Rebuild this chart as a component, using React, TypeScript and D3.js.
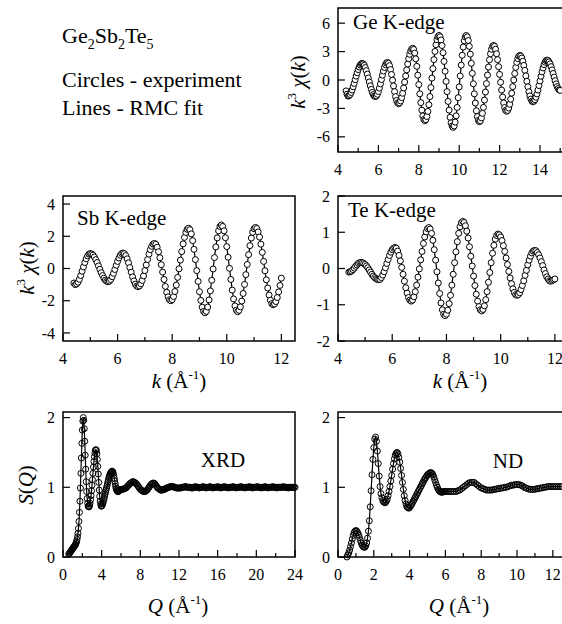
import React from 'react';
import * as d3 from 'd3';

const FONT = "'Liberation Serif', 'Times New Roman', serif";
const W = 562;
const H = 624;

// EXAFS data, k grid starts at 4.40 with a step of 0.05 (A^-1)
const K_STEP = 0.05;
const geStart = 4.4;
const geChi = [
  -1.15, -1.5, -1.7,
  -1.66, -1.53, -1.32, -1.05, -0.72, -0.36, 0.03, 0.41, 0.77, 1.1, 1.37, 1.58, 1.71, 1.75,
  1.7, 1.55, 1.31, 0.99, 0.62, 0.21, -0.21, -0.62, -0.99, -1.31, -1.55, -1.7, -1.75,
  -1.69, -1.51, -1.22, -0.85, -0.41, 0.05, 0.51, 0.95, 1.32, 1.61, 1.79, 1.85,
  1.76, 1.51, 1.1, 0.58, -0.02, -0.63, -1.23, -1.75, -2.16, -2.41, -2.5,
  -2.42, -2.21, -1.86, -1.4, -0.84, -0.22, 0.43, 1.07, 1.69, 2.25, 2.71, 3.06, 3.27, 3.35,
  3.22, 2.84, 2.23, 1.44, 0.51, -0.48, -1.46, -2.39, -3.18, -3.79, -4.17, -4.3,
  -4.18, -3.85, -3.32, -2.61, -1.75, -0.8, 0.2, 1.2, 2.15, 3.01, 3.72, 4.25, 4.58, 4.7,
  4.57, 4.22, 3.64, 2.88, 1.96, 0.93, -0.15, -1.23, -2.26, -3.18, -3.94, -4.52, -4.87, -5.0,
  -4.85, -4.44, -3.78, -2.9, -1.87, -0.73, 0.43, 1.57, 2.61, 3.48, 4.14, 4.55, 4.7,
  4.56, 4.17, 3.55, 2.73, 1.76, 0.7, -0.4, -1.46, -2.43, -3.25, -3.87, -4.26, -4.4,
  -4.3, -4.0, -3.52, -2.89, -2.12, -1.27, -0.38, 0.52, 1.37, 2.14, 2.77, 3.25, 3.55, 3.65,
  3.55, 3.25, 2.77, 2.15, 1.41, 0.59, -0.24, -1.06, -1.8, -2.42, -2.9, -3.2, -3.3,
  -3.21, -2.96, -2.56, -2.03, -1.39, -0.7, 0.0, 0.69, 1.33, 1.86, 2.26, 2.51, 2.6,
  2.53, 2.32, 1.98, 1.54, 1.02, 0.44, -0.14, -0.72, -1.24, -1.68, -2.02, -2.23, -2.3,
  -2.24, -2.08, -1.82, -1.47, -1.06, -0.59, -0.1, 0.39, 0.86, 1.27, 1.62, 1.88, 2.04, 2.1,
  2.05, 1.91, 1.7, 1.41, 1.07, 0.69, 0.31, -0.07, -0.41, -0.7, -0.91, -1.05, -1.1,
];

const sbStart = 4.4;
const sbChi = [
  -0.9, -1.0,
  -0.96, -0.85, -0.67, -0.44, -0.17, 0.1, 0.37, 0.6, 0.78, 0.89, 0.93,
  0.9, 0.83, 0.71, 0.55, 0.37, 0.16, -0.05, -0.26, -0.44, -0.6, -0.72, -0.79, -0.82,
  -0.78, -0.68, -0.51, -0.3, -0.06, 0.2, 0.44, 0.65, 0.82, 0.92, 0.96,
  0.92, 0.8, 0.6, 0.35, 0.06, -0.23, -0.52, -0.77, -0.97, -1.09, -1.13,
  -1.08, -0.95, -0.74, -0.46, -0.13, 0.22, 0.56, 0.89, 1.17, 1.38, 1.51, 1.56,
  1.5, 1.32, 1.04, 0.67, 0.24, -0.22, -0.68, -1.11, -1.48, -1.76, -1.94, -2.0,
  -1.93, -1.74, -1.43, -1.03, -0.55, -0.02, 0.52, 1.05, 1.53, 1.93, 2.24, 2.43, 2.5,
  2.41, 2.15, 1.73, 1.19, 0.55, -0.13, -0.8, -1.44, -1.98, -2.4, -2.66, -2.75,
  -2.66, -2.39, -1.95, -1.39, -0.73, -0.03, 0.68, 1.34, 1.9, 2.34, 2.61, 2.7,
  2.61, 2.34, 1.91, 1.36, 0.7, 0.01, -0.68, -1.34, -1.89, -2.32, -2.59, -2.68,
  -2.6, -2.38, -2.02, -1.55, -0.99, -0.38, 0.25, 0.86, 1.42, 1.89, 2.25, 2.47, 2.55,
  2.48, 2.27, 1.95, 1.51, 1.0, 0.44, -0.14, -0.7, -1.21, -1.65, -1.97, -2.18, -2.25,
  -2.2, -2.05, -1.8, -1.45, -1.05, -0.6,
];

const teStart = 4.4;
const teChi = [
  -0.1,
  -0.09, -0.07, -0.03, 0.01, 0.06, 0.1, 0.14, 0.16, 0.17,
  0.16, 0.14, 0.11, 0.07, 0.02, -0.04, -0.1, -0.16, -0.21, -0.25, -0.28, -0.3, -0.31,
  -0.3, -0.25, -0.18, -0.09, 0.02, 0.14, 0.25, 0.36, 0.45, 0.52, 0.56, 0.58,
  0.56, 0.48, 0.36, 0.21, 0.03, -0.16, -0.35, -0.53, -0.68, -0.8, -0.87, -0.9,
  -0.87, -0.78, -0.64, -0.46, -0.24, -0.01, 0.24, 0.47, 0.69, 0.87, 1.01, 1.1, 1.13,
  1.09, 0.97, 0.78, 0.52, 0.23, -0.09, -0.4, -0.69, -0.95, -1.14, -1.26, -1.3,
  -1.26, -1.15, -0.97, -0.74, -0.46, -0.16, 0.16, 0.46, 0.74, 0.97, 1.15, 1.26, 1.3,
  1.27, 1.18, 1.03, 0.84, 0.6, 0.34, 0.07, -0.21, -0.47, -0.71, -0.9, -1.05, -1.14, -1.17,
  -1.13, -1.03, -0.86, -0.64, -0.38, -0.11, 0.16, 0.42, 0.64, 0.81, 0.91, 0.95,
  0.93, 0.87, 0.77, 0.63, 0.47, 0.29, 0.11, -0.08, -0.26, -0.42, -0.56, -0.66, -0.72, -0.74,
  -0.72, -0.67, -0.58, -0.47, -0.34, -0.19, -0.05, 0.1, 0.23, 0.34, 0.43, 0.48, 0.5,
  0.49, 0.44, 0.38, 0.29, 0.19, 0.08, -0.04, -0.14, -0.23, -0.29, -0.34, -0.35,
  -0.33, -0.31, -0.29,
];

// S(Q): fine grid (0.05) at low Q, 0.1 above 6
const xrdLowStart = 0.6;
const xrdLow = [
  0.04, 0.05, 0.06, 0.07, 0.08, 0.09, 0.1, 0.11, 0.12,
  0.13, 0.14, 0.15, 0.16, 0.17, 0.18, 0.2, 0.22, 0.25, 0.29,
  0.34, 0.41, 0.51, 0.64, 0.8, 0.99, 1.2, 1.42, 1.63, 1.82,
  1.95, 2.0, 1.96, 1.84, 1.66, 1.46, 1.26, 1.08, 0.94, 0.84,
  0.77, 0.73, 0.72, 0.72, 0.74, 0.77, 0.82, 0.88, 0.95, 1.03,
  1.11, 1.2, 1.29, 1.37, 1.44, 1.49, 1.53, 1.54, 1.53, 1.48,
  1.4, 1.3, 1.19, 1.07, 0.96, 0.87, 0.8, 0.76, 0.73, 0.73,
  0.74, 0.76, 0.78, 0.81, 0.84, 0.87, 0.9, 0.93, 0.96, 0.99,
  1.02, 1.05, 1.08, 1.11, 1.14, 1.16, 1.18, 1.2, 1.21, 1.22,
  1.23, 1.23, 1.22, 1.2, 1.17, 1.13, 1.09, 1.05, 1.01, 0.98,
  0.96, 0.95, 0.94, 0.94, 0.94, 0.95, 0.96, 0.96, 0.97, 0.97,
];
const xrdHighStart = 6.1;
const xrdHigh = [
  0.97, 0.97, 0.98, 0.98, 0.99, 1.0, 1.02, 1.03, 1.05, 1.06,
  1.07, 1.08, 1.08, 1.07, 1.06, 1.05, 1.03, 1.01, 0.99, 0.97,
  0.96, 0.95, 0.94, 0.94, 0.94, 0.95, 0.96, 0.98, 1.0, 1.02,
  1.04, 1.05, 1.06, 1.06, 1.05, 1.03, 1.01, 0.99, 0.98, 0.97,
  0.96, 0.96, 0.96, 0.97, 0.97, 0.98, 0.99, 0.99, 1.0, 1.0,
  1.01, 1.01, 1.01, 1.01, 1.0, 1.0, 0.99, 0.99, 0.99, 0.99,
  0.99, 0.99, 1.0, 1.0, 1.0, 1.01, 1.01, 1.0, 1.0, 1.0,
  1.0, 1.0, 0.99, 0.99, 1.0, 1.0, 1.01, 1.0, 1.0, 1.0,
  0.99, 1.0, 1.0, 1.0, 1.01, 1.0, 1.0, 0.99, 1.0, 1.0,
  1.0, 1.01, 1.0, 1.0, 0.99, 1.0, 1.0, 1.0, 1.0, 1.01,
  1.0, 1.0, 0.99, 1.0, 1.0, 1.0, 1.01, 1.0, 1.0, 1.0,
  0.99, 1.0, 1.0, 1.0, 1.0, 1.01, 1.0, 1.0, 0.99, 1.0,
  1.0, 1.0, 1.0, 1.01, 1.0, 1.0, 1.0, 0.99, 1.0, 1.0,
  1.0, 1.0, 1.01, 1.0, 1.0, 0.99, 1.0, 1.0, 1.0, 1.0,
  1.01, 1.0, 1.0, 1.0, 0.99, 1.0, 1.0, 1.0, 1.01, 1.0,
  1.0, 0.99, 1.0, 1.0, 1.0, 1.0, 1.01, 1.0, 1.0, 1.0,
  0.99, 1.0, 1.0, 1.0, 1.0, 1.0, 1.0, 1.01, 1.0, 1.0,
  1.0, 1.0, 0.99, 1.0, 1.0, 1.0, 1.0, 1.0, 1.0, 1.0,
];

const ndLowStart = 0.5;
const ndLow = [
  0.0, 0.03, 0.06, 0.1, 0.15, 0.2, 0.26, 0.31, 0.35, 0.37, 0.38,
  0.37, 0.35, 0.32, 0.28, 0.24, 0.2, 0.17, 0.15, 0.14, 0.14,
  0.16, 0.2, 0.27, 0.37, 0.52, 0.72, 0.95, 1.18, 1.4, 1.57,
  1.69, 1.72, 1.66, 1.52, 1.34, 1.16, 1.01, 0.91, 0.85, 0.81,
  0.79, 0.78, 0.78, 0.8, 0.83, 0.88, 0.94, 1.01, 1.09, 1.17,
  1.26, 1.34, 1.41, 1.46, 1.49, 1.5, 1.48, 1.43, 1.36, 1.27,
  1.17, 1.07, 0.97, 0.88, 0.81, 0.76, 0.72, 0.71, 0.7, 0.71,
  0.73, 0.75, 0.77, 0.8, 0.82, 0.85, 0.87, 0.9, 0.92, 0.95,
  0.97, 1.0, 1.02, 1.05, 1.07, 1.1, 1.12, 1.14, 1.16, 1.18,
  1.19, 1.2, 1.21, 1.21, 1.2, 1.18, 1.15, 1.11, 1.07, 1.03,
  1.0, 0.97, 0.95, 0.94, 0.93, 0.93, 0.93, 0.94, 0.94, 0.94,
];
const ndHighStart = 6.1;
const ndHigh = [
  0.94, 0.94, 0.94, 0.94, 0.94, 0.94, 0.95, 0.96, 0.98, 1.0,
  1.02, 1.04, 1.06, 1.07, 1.07, 1.07, 1.05, 1.03, 1.01, 0.99,
  0.98, 0.97, 0.96, 0.96, 0.96, 0.96, 0.97, 0.97, 0.98, 0.98,
  0.99, 0.99, 1.0, 1.0, 1.01, 1.02, 1.03, 1.03, 1.04, 1.04,
  1.04, 1.03, 1.02, 1.0, 0.99, 0.98, 0.97, 0.97, 0.97, 0.97,
  0.98, 0.98, 0.99, 0.99, 1.0, 1.0, 1.01, 1.01, 1.01, 1.01,
  1.01, 1.01, 1.01, 1.01, 1.01,
];

// ticks
const kMajor = [4, 6, 8, 10, 12, 14, 16];
const kMinor = [5, 7, 9, 11, 13, 15];
const geYTicks = [-6, -3, 0, 3, 6];
const sbYTicks = [-4, -2, 0, 2, 4];
const teYTicks = [-2, -1, 0, 1, 2];
const xrdMajor = [0, 4, 8, 12, 16, 20, 24];
const xrdMinor = [2, 6, 10, 14, 18, 22];
const ndMajor = [0, 2, 4, 6, 8, 10, 12];
const ndMinor = [1, 3, 5, 7, 9, 11, 13];
const sYTicks = [0, 1, 2];

type Pt = [number, number];

const series = (start: number, step: number, values: number[]): Pt[] =>
  values.map((v, i) => [+(start + i * step).toFixed(2), v] as Pt);

interface PanelProps {
  left: number;
  top: number;
  width: number;
  height: number;
  xDomain: [number, number];
  yDomain: [number, number];
  xMajor: number[];
  xMinor: number[];
  yTicks: number[];
  points: Pt[];
  hollow?: boolean;
}

const Panel = ({ left, top, width, height, xDomain, yDomain, xMajor, xMinor, yTicks, points, hollow }: PanelProps) => {
  const x = d3.scaleLinear().domain(xDomain).range([left, left + width]);
  const y = d3.scaleLinear().domain(yDomain).range([top + height, top]);
  const line = d3.line<Pt>().x((d) => x(d[0])).y((d) => y(d[1]));
  const bottom = top + height;
  // only ticks that land on the page
  const onPage = (t: number) => x(t) <= W - 1;

  return (
    <g>
      <path d={line(points) || ''} fill="none" stroke="#000" strokeWidth={1.2} />
      {points.map((d, i) => (
        <circle key={i} cx={x(d[0])} cy={y(d[1])} r={3} fill={hollow ? 'none' : '#fff'} stroke="#000" strokeWidth={1} />
      ))}
      <rect x={left} y={top} width={width} height={height} fill="none" stroke="#000" strokeWidth={1.5} />
      {/* x ticks point inward */}
      {xMajor.filter(onPage).map((t) => (
        <g key={'M' + t}>
          <line x1={x(t)} x2={x(t)} y1={bottom} y2={bottom - 7} stroke="#000" strokeWidth={1.2} />
          <text x={x(t)} y={bottom + 23} textAnchor="middle" fontSize={16}>{t}</text>
        </g>
      ))}
      {xMinor.filter(onPage).map((t) => (
        <line key={'m' + t} x1={x(t)} x2={x(t)} y1={bottom} y2={bottom - 4} stroke="#000" strokeWidth={1.2} />
      ))}
      {yTicks.map((t) => (
        <g key={'y' + t}>
          <line x1={left} x2={left + 7} y1={y(t)} y2={y(t)} stroke="#000" strokeWidth={1.2} />
          <text x={left - 8} y={y(t)} dy="0.35em" textAnchor="end" fontSize={16}>{t}</text>
        </g>
      ))}
    </g>
  );
};

const KTitle = ({ x, y }: { x: number; y: number }) => (
  <text x={x} y={y} textAnchor="middle" fontSize={21}>
    <tspan fontStyle="italic">k</tspan>
    <tspan> (Å</tspan>
    <tspan fontSize={13} dy={-9}>-1</tspan>
    <tspan dy={9}>)</tspan>
  </text>
);

const QTitle = ({ x, y }: { x: number; y: number }) => (
  <text x={x} y={y} textAnchor="middle" fontSize={21}>
    <tspan fontStyle="italic">Q</tspan>
    <tspan> (Å</tspan>
    <tspan fontSize={13} dy={-9}>-1</tspan>
    <tspan dy={9}>)</tspan>
  </text>
);

const ChiTitle = ({ x, y }: { x: number; y: number }) => (
  <text transform={`translate(${x},${y}) rotate(-90)`} textAnchor="middle" fontSize={21}>
    <tspan fontStyle="italic">k</tspan>
    <tspan fontSize={13} dy={-9}>3</tspan>
    <tspan dy={9} fontStyle="italic"> χ</tspan>
    <tspan>(</tspan>
    <tspan fontStyle="italic">k</tspan>
    <tspan>)</tspan>
  </text>
);

const App = () => {
  const colW = 232;
  const rightW = 244;
  const panelH = 145;

  return (
    <svg width={W} height={H} style={{ position: 'absolute', left: 0, top: 0, background: '#fff' }} fontFamily={FONT}>
      <rect width={W} height={H} fill="#fff" />

      {/* caption */}
      <text x={62} y={43} fontSize={22}>
        Ge<tspan fontSize={14} dy={6}>2</tspan>
        <tspan dy={-6}>Sb</tspan>
        <tspan fontSize={14} dy={6}>2</tspan>
        <tspan dy={-6}>Te</tspan>
        <tspan fontSize={14} dy={6}>5</tspan>
      </text>
      <text x={62} y={87} fontSize={22}>Circles - experiment</text>
      <text x={62} y={115} fontSize={22}>Lines - RMC fit</text>

      {/* Ge K-edge */}
      <Panel left={338} top={8} width={rightW} height={144} xDomain={[4, 16.08]} yDomain={[-7.6, 7.6]}
        xMajor={kMajor} xMinor={kMinor} yTicks={geYTicks} points={series(geStart, K_STEP, geChi)} />
      <text x={353} y={29} fontSize={21}>Ge K-edge</text>
      <ChiTitle x={305} y={82} />

      {/* Sb K-edge */}
      <Panel left={63} top={196} width={colW} height={panelH} xDomain={[4, 12.5]} yDomain={[-4.5, 4.5]}
        xMajor={kMajor.filter((t) => t <= 12)} xMinor={kMinor.filter((t) => t < 12)} yTicks={sbYTicks}
        points={series(sbStart, K_STEP, sbChi)} />
      <text x={77} y={225} fontSize={21}>Sb K-edge</text>
      <ChiTitle x={34} y={268} />
      <KTitle x={179} y={388} />

      {/* Te K-edge */}
      <Panel left={338} top={196} width={rightW} height={panelH} xDomain={[4, 13]} yDomain={[-2, 2]}
        xMajor={kMajor.filter((t) => t <= 12)} xMinor={kMinor.filter((t) => t <= 13)} yTicks={teYTicks}
        points={series(teStart, K_STEP, teChi)} />
      <text x={348} y={217} fontSize={21}>Te K-edge</text>
      <KTitle x={460} y={388} />

      {/* XRD */}
      <Panel left={63} top={412} width={colW} height={panelH} xDomain={[0, 24]} yDomain={[0, 2.08]}
        xMajor={xrdMajor} xMinor={xrdMinor} yTicks={sYTicks} hollow
        points={[...series(xrdLowStart, 0.05, xrdLow), ...series(xrdHighStart, 0.1, xrdHigh)]} />
      <text x={223} y={467} textAnchor="middle" fontSize={21}>XRD</text>
      <text transform="translate(33,485) rotate(-90)" textAnchor="middle" fontSize={21}>
        <tspan fontStyle="italic">S</tspan>(<tspan fontStyle="italic">Q</tspan>)
      </text>
      <QTitle x={178} y={613} />

      {/* ND */}
      <Panel left={338} top={412} width={rightW} height={panelH} xDomain={[0, 13.63]} yDomain={[0, 2.08]}
        xMajor={ndMajor} xMinor={ndMinor} yTicks={sYTicks} hollow
        points={[...series(ndLowStart, 0.05, ndLow), ...series(ndHighStart, 0.1, ndHigh)]} />
      <text x={508} y={468} textAnchor="middle" fontSize={21}>ND</text>
      <QTitle x={459} y={613} />
    </svg>
  );
};

export default App;
